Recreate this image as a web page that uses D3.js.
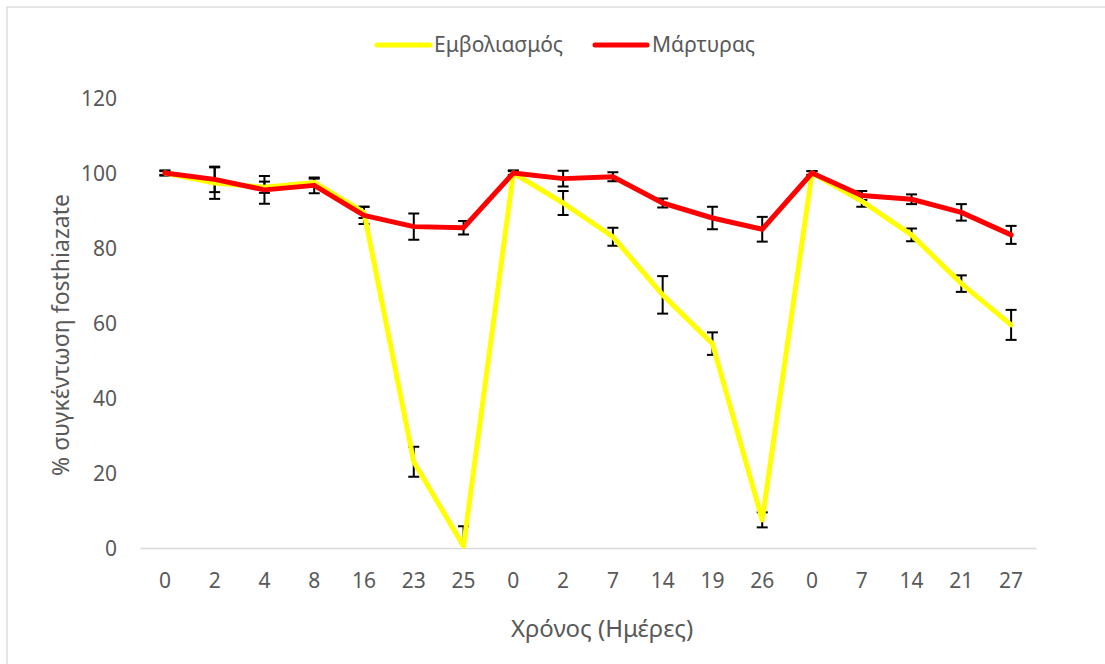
<!DOCTYPE html>
<html>
<head>
<meta charset="utf-8">
<script src="https://cdn.jsdelivr.net/npm/d3@7"></script>
<style>
  html, body { margin: 0; padding: 0; background: #ffffff; }
  svg { display: block; }
  text { font-family: "Noto Sans", "Open Sans", sans-serif; fill: #595959; }
</style>
</head>
<body>
<svg id="chart" width="1105" height="664"></svg>
<script>
// ---- data ----
const categories = ["0","2","4","8","16","23","25","0","2","7","14","19","26","0","7","14","21","27"];
const vaccinated = [100, 97.3, 96.2, 97.5, 89.5, 23, 0.5, 100, 92, 83, 67.5, 54.5, 7.5, 100, 92.5, 83.5, 70.5, 59.5];
const vaccinatedErr = [0.5, 4.2, 1.5, 1, 1.5, 4, 5.3, 0.5, 3.2, 2.4, 5, 3, 2, 0.5, 1.5, 1.7, 2.2, 4];
const control = [100, 98.3, 95.5, 96.7, 88.7, 85.7, 85.4, 100, 98.5, 99, 92, 88, 85, 100, 94, 93, 89.5, 83.5];
const controlErr = [0.7, 3.4, 3.7, 2.1, 2.3, 3.5, 1.8, 0.7, 2.1, 1.2, 1.2, 3, 3.3, 0.5, 1.2, 1.3, 2.2, 2.4];
const yTicks = [0, 20, 40, 60, 80, 100, 120];
const seriesNames = ["Εμβολιασμός", "Μάρτυρας"];
const xTitle = "Χρόνος (Ημέρες)";
const yTitle = "% συγκέντωση fosthiazate";

// ---- layout ----
const W = 1105, H = 664;
const plot = { left: 140, right: 1036, top: 98, bottom: 548 };
const colors = ["#FFFF00", "#FF0000"];

const svg = d3.select("#chart");

// chart border (left/top visible)
svg.append("rect")
  .attr("x", 7).attr("y", 7)
  .attr("width", W + 20).attr("height", H + 20)
  .attr("fill", "#ffffff").attr("stroke", "#d9d9d9").attr("stroke-width", 1.3);

const idx = d3.range(categories.length);
const x = d3.scaleBand().domain(idx).range([plot.left, plot.right]).padding(0);
const cx = i => x(i) + x.bandwidth() / 2;
const y = d3.scaleLinear().domain([0, 120]).range([plot.bottom, plot.top]);

// y axis labels (no line)
const yAxis = d3.axisLeft(y).tickValues(yTicks).tickSize(0).tickPadding(0);
const yg = svg.append("g").attr("transform", `translate(${plot.left - 23},0)`).call(yAxis);
yg.select(".domain").remove();
yg.selectAll("text").attr("font-size", 21).attr("fill", "#595959")
  .attr("font-family", "Noto Sans").attr("dy", "0.35em");

// x axis
const xAxis = d3.axisBottom(x).tickFormat(i => categories[i]).tickSize(0).tickPadding(0);
const xg = svg.append("g").attr("transform", `translate(0,${plot.bottom})`).call(xAxis);
xg.select(".domain").attr("stroke", "#d9d9d9").attr("stroke-width", 1.5);
xg.selectAll("text").attr("font-size", 21).attr("fill", "#595959")
  .attr("font-family", "Noto Sans").attr("y", 0).attr("dy", 40);

// clip for error bars
svg.append("clipPath").attr("id", "plotclip").append("rect")
  .attr("x", plot.left - 20).attr("y", plot.top - 20)
  .attr("width", plot.right - plot.left + 40).attr("height", plot.bottom - plot.top + 20);

function drawErr(vals, errs) {
  const g = svg.append("g").attr("clip-path", "url(#plotclip)")
    .attr("stroke", "#000000").attr("stroke-width", 2).attr("fill", "none");
  const capW = 5.5;
  idx.forEach(i => {
    const px = cx(i);
    const y0 = y(vals[i] - errs[i]), y1 = y(vals[i] + errs[i]);
    g.append("line").attr("x1", px).attr("x2", px).attr("y1", y0).attr("y2", y1);
    g.append("line").attr("x1", px - capW).attr("x2", px + capW).attr("y1", y1).attr("y2", y1);
    if (vals[i] - errs[i] >= 0)
      g.append("line").attr("x1", px - capW).attr("x2", px + capW).attr("y1", y0).attr("y2", y0);
  });
}
drawErr(vaccinated, vaccinatedErr);
drawErr(control, controlErr);

const line = vals => d3.line().x(i => cx(i)).y(i => y(vals[i]))(idx);
svg.append("path").attr("d", line(vaccinated)).attr("fill", "none")
  .attr("stroke", colors[0]).attr("stroke-width", 5)
  .attr("stroke-linejoin", "round").attr("stroke-linecap", "round");
svg.append("path").attr("d", line(control)).attr("fill", "none")
  .attr("stroke", colors[1]).attr("stroke-width", 5)
  .attr("stroke-linejoin", "round").attr("stroke-linecap", "round");

// legend
const legendItems = [
  { name: seriesNames[0], color: colors[0], x0: 377, x1: 430, tx: 434 },
  { name: seriesNames[1], color: colors[1], x0: 595, x1: 647, tx: 652 }
];
legendItems.forEach(d => {
  svg.append("line").attr("x1", d.x0).attr("x2", d.x1).attr("y1", 45).attr("y2", 45)
    .attr("stroke", d.color).attr("stroke-width", 5).attr("stroke-linecap", "round");
  svg.append("text").attr("x", d.tx).attr("y", 45).attr("dy", "0.35em")
    .attr("font-size", 21).text(d.name);
});

// axis titles
svg.append("text").attr("x", 602).attr("y", 637).attr("text-anchor", "middle")
  .attr("font-size", 24).text(xTitle);
svg.append("text").attr("transform", "translate(69,335) rotate(-90)")
  .attr("text-anchor", "middle").attr("font-size", 23).text(yTitle);
</script>
</body>
</html>
